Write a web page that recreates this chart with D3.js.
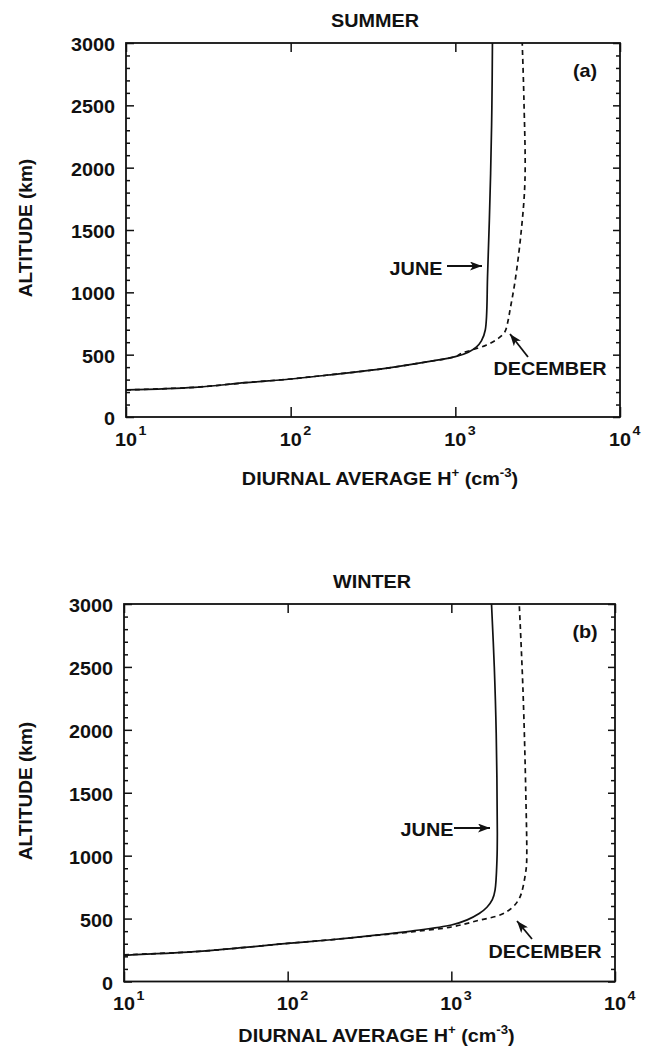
<!DOCTYPE html>
<html>
<head>
<meta charset="utf-8">
<script src="https://cdn.jsdelivr.net/npm/d3@7"></script>
<style>
  html, body { margin: 0; padding: 0; background: #fff; }
  svg text { font-family: "Liberation Sans", Arial, Helvetica, sans-serif; font-weight: bold; fill: #111; }
</style>
</head>
<body>
<svg id="chart" width="645" height="1048"></svg>
<script>
// altitude ticks (km) and density decades (10^n cm^-3)
const altTicks = [0, 500, 1000, 1500, 2000, 2500, 3000];
const decadeExps = [1, 2, 3, 4];

// (a) SUMMER
const summerJuneAlt = [217, 238, 275, 305, 337, 382, 444, 484, 520, 560, 610, 698, 1153, 1955, 2490, 3000];
const summerJuneH   = [10, 26, 53, 100, 169, 340, 684, 1000, 1200, 1340, 1440, 1520, 1571, 1638, 1667, 1680];
const summerDecAlt  = [217, 238, 275, 305, 337, 382, 444, 484, 511, 537, 578, 631, 684, 778, 858, 1099, 1500, 1900, 2540, 3000];
const summerDecH    = [10, 26, 53, 100, 169, 340, 684, 1000, 1092, 1256, 1549, 1824, 2000, 2094, 2148, 2311, 2517, 2648, 2610, 2548];

// (b) WINTER
const winterJuneAlt = [208, 237, 271, 303, 330, 370, 401, 449, 490, 540, 590, 650, 727, 966, 1178, 1972, 2502, 3000];
const winterJuneH   = [10, 27, 55, 100, 177, 357, 571, 1000, 1250, 1480, 1650, 1780, 1850, 1900, 1910, 1880, 1830, 1760];
const winterDecAlt  = [212, 237, 271, 303, 330, 368, 395, 433, 485, 530, 582, 640, 701, 860, 942, 1500, 2317, 3000];
const winterDecH    = [10, 27, 55, 100, 177, 357, 571, 1000, 1460, 2000, 2333, 2550, 2680, 2840, 2884, 2850, 2740, 2600];

const SX = 1.1; // scanned type is a little wide

const svg = d3.select("#chart");

svg.append("defs")
  .append("marker")
  .attr("id", "head")
  .attr("markerUnits", "userSpaceOnUse")
  .attr("viewBox", "0 0 12 9")
  .attr("refX", 12)
  .attr("refY", 4.5)
  .attr("markerWidth", 12)
  .attr("markerHeight", 9)
  .attr("orient", "auto")
  .append("path")
  .attr("d", "M0,0 L12,4.5 L0,9 L3,4.5 Z")
  .attr("fill", "#111");

function label(parent, x, y, str, anchor, size) {
  return parent
    .append("text")
    .attr("transform", `translate(${x},${y}) scale(${SX},1)`)
    .attr("text-anchor", anchor || "middle")
    .attr("font-size", size || 18)
    .text(str);
}

const panels = [
  {
    title: "SUMMER", tag: "(a)",
    frame: { left: 126, right: 620, top: 43, bottom: 417 },
    titleX: 375, titleY: 27, yTitleY: 228, xTitleY: 485,
    june: [summerJuneH, summerJuneAlt], dec: [summerDecH, summerDecAlt],
    juneText: [416, 275], juneArrow: [447, 266, 482, 266],
    decText: [550, 375], decArrow: [528, 357, 510, 334]
  },
  {
    title: "WINTER", tag: "(b)",
    frame: { left: 124, right: 615, top: 604, bottom: 981.5 },
    titleX: 372, titleY: 588, yTitleY: 791, xTitleY: 1042,
    june: [winterJuneH, winterJuneAlt], dec: [winterDecH, winterDecAlt],
    juneText: [427, 836], juneArrow: [454, 828, 490, 828],
    decText: [545, 958], decArrow: [532, 939, 517, 921]
  }
];

panels.forEach(p => {
  const f = p.frame;
  const x = d3.scaleLog().domain([10, 10000]).range([f.left, f.right]);
  const y = d3.scaleLinear().domain([0, 3000]).range([f.bottom, f.top]);
  const g = svg.append("g");

  const minorAlt = d3.range(0, 3001, 100).filter(v => v % 500 !== 0);
  const decades = decadeExps.map(e => Math.pow(10, e));

  const styleAxis = sel => {
    sel.select(".domain").remove();
    sel.selectAll("line").attr("stroke", "#111").attr("stroke-width", 1.5);
  };

  // left ticks + labels
  g.append("g")
    .attr("transform", `translate(${f.left},0)`)
    .call(d3.axisLeft(y).tickValues(minorAlt).tickSize(-4).tickFormat(""))
    .call(styleAxis);
  g.append("g")
    .attr("transform", `translate(${f.left},0)`)
    .call(d3.axisLeft(y).tickValues(altTicks).tickSize(-8).tickPadding(10).tickFormat(d3.format("d")))
    .call(styleAxis)
    .call(sel =>
      sel.selectAll("text")
        .attr("font-size", 18)
        .attr("font-family", null)
        .attr("dy", "0.42em")
        .attr("transform", `scale(${SX},1)`)
    );

  // right ticks
  g.append("g")
    .attr("transform", `translate(${f.right},0)`)
    .call(d3.axisRight(y).tickValues(minorAlt).tickSize(-4).tickFormat(""))
    .call(styleAxis);
  g.append("g")
    .attr("transform", `translate(${f.right},0)`)
    .call(d3.axisRight(y).tickValues(altTicks).tickSize(-7).tickFormat(""))
    .call(styleAxis);

  // bottom/top decade ticks
  g.append("g")
    .attr("transform", `translate(0,${f.bottom})`)
    .call(d3.axisBottom(x).tickValues(decades).tickSize(-10).tickFormat(""))
    .call(styleAxis);
  g.append("g")
    .attr("transform", `translate(0,${f.top})`)
    .call(d3.axisTop(x).tickValues(decades).tickSize(-9).tickFormat(""))
    .call(styleAxis);

  // frame
  g.append("rect")
    .attr("x", f.left)
    .attr("y", f.top)
    .attr("width", f.right - f.left)
    .attr("height", f.bottom - f.top)
    .attr("fill", "none")
    .attr("stroke", "#111")
    .attr("stroke-width", 1.8);

  // decade labels 10^n
  decadeExps.forEach(e => {
    const tx = x(Math.pow(10, e));
    const base = label(g, tx, f.bottom + 28.5, "10", "middle", 18);
    const w = base.node().getComputedTextLength() * SX;
    label(g, tx + w / 2 + 1.5, f.bottom + 18, String(e), "start", 13);
  });

  // curves
  const line = d3.line()
    .x(d => x(d[0]))
    .y(d => y(d[1]))
    .curve(d3.curveCatmullRom.alpha(0.5));

  g.append("path")
    .datum(d3.zip(p.dec[0], p.dec[1]))
    .attr("fill", "none")
    .attr("stroke", "#111")
    .attr("stroke-width", 1.7)
    .attr("stroke-dasharray", "5,4")
    .attr("d", line);

  g.append("path")
    .datum(d3.zip(p.june[0], p.june[1]))
    .attr("fill", "none")
    .attr("stroke", "#111")
    .attr("stroke-width", 1.7)
    .attr("d", line);

  // titles
  label(g, p.titleX, p.titleY, p.title, "middle", 18);
  label(g, 585, f.top + 34, p.tag, "middle", 18);

  g.append("text")
    .attr("transform", `translate(31.5,${p.yTitleY}) rotate(-90) scale(1.06,1)`)
    .attr("text-anchor", "middle")
    .attr("font-size", 18)
    .text("ALTITUDE (km)");

  const xt = g.append("text")
    .attr("transform", `translate(${(f.left + f.right) / 2 + 7},${p.xTitleY}) scale(${SX},1)`)
    .attr("text-anchor", "middle")
    .attr("font-size", 18);
  xt.append("tspan").text("DIURNAL AVERAGE H");
  xt.append("tspan").attr("font-size", 12).attr("dy", -8).text("+");
  xt.append("tspan").attr("dy", 8).text("\u00a0(cm");
  xt.append("tspan").attr("font-size", 12).attr("dy", -8).text("-3");
  xt.append("tspan").attr("dy", 8).text(")");

  // annotations
  label(g, p.juneText[0], p.juneText[1], "JUNE", "middle", 18);
  g.append("line")
    .attr("x1", p.juneArrow[0]).attr("y1", p.juneArrow[1])
    .attr("x2", p.juneArrow[2]).attr("y2", p.juneArrow[3])
    .attr("stroke", "#111").attr("stroke-width", 1.8)
    .attr("marker-end", "url(#head)");

  label(g, p.decText[0], p.decText[1], "DECEMBER", "middle", 18);
  g.append("line")
    .attr("x1", p.decArrow[0]).attr("y1", p.decArrow[1])
    .attr("x2", p.decArrow[2]).attr("y2", p.decArrow[3])
    .attr("stroke", "#111").attr("stroke-width", 1.8)
    .attr("marker-end", "url(#head)");
});
</script>
</body>
</html>
